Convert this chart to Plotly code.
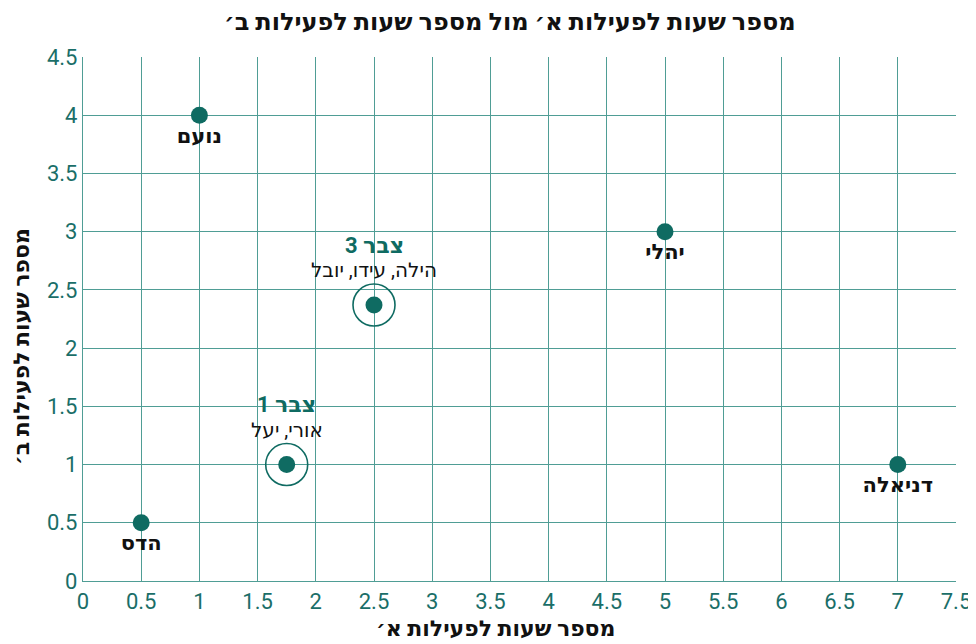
import plotly.graph_objects as go

# individual kids
names = ["נועם", "יהלי", "הדס", "דניאלה"]
hours_a = [1, 5, 0.5, 7]
hours_b = [4, 3, 0.5, 1]

# clusters
cluster_titles = ["צבר 1", "צבר 3"]
cluster_members = ["אורי, יעל", "הילה, עידו, יובל"]
cluster_a = [1.75, 2.5]
cluster_b = [1, 2.37]

TEAL = "#0f6b62"
GRID = "#4f9d95"
FONT = "Roboto, Noto Sans, DejaVu Sans, sans-serif"

fig = go.Figure()

fig.add_trace(go.Scatter(
    x=hours_a, y=hours_b, mode="markers+text",
    text=[f"<b>{n}</b>" for n in names], textposition="bottom center",
    textfont=dict(size=21, color="#111", family=FONT),
    marker=dict(size=17, color=TEAL),
    hoverinfo="skip", showlegend=False,
))

fig.add_trace(go.Scatter(
    x=cluster_a, y=cluster_b, mode="markers",
    marker=dict(size=42, color="rgba(0,0,0,0)", line=dict(color=TEAL, width=1.6)),
    hoverinfo="skip", showlegend=False,
))
fig.add_trace(go.Scatter(
    x=cluster_a, y=cluster_b, mode="markers",
    marker=dict(size=17, color=TEAL),
    hoverinfo="skip", showlegend=False,
))

for t, m, xa, yb in zip(cluster_titles, cluster_members, cluster_a, cluster_b):
    fig.add_annotation(x=xa, y=yb, text=f"<b>{t}</b>", showarrow=False,
                       yshift=60, font=dict(size=22, color=TEAL, family=FONT))
    fig.add_annotation(x=xa, y=yb, text=m, showarrow=False,
                       yshift=35, font=dict(size=20, color="#111", family=FONT))

axis_common = dict(
    showgrid=True, gridcolor=GRID, gridwidth=1.3,
    showline=True, linecolor=GRID, linewidth=1.3,
    zeroline=False, dtick=0.5, ticks="",
    tickfont=dict(size=22, color="#1a6e68", family=FONT),
)
fig.update_xaxes(range=[0, 7.5], **axis_common)
fig.update_yaxes(range=[0, 4.5], **axis_common)

# titles placed as annotations to match the reference offsets
fig.add_annotation(text="<b>מספר שעות לפעילות א׳ מול מספר שעות לפעילות ב׳</b>",
                   xref="paper", yref="paper", x=0.489, y=1.0668,
                   xanchor="center", yanchor="middle", showarrow=False,
                   font=dict(size=24, color="#111", family=FONT))
fig.add_annotation(text="<b>מספר שעות לפעילות א׳</b>",
                   xref="paper", yref="paper", x=0.473, y=-0.0916,
                   xanchor="center", yanchor="middle", showarrow=False,
                   font=dict(size=22, color="#111", family=FONT))
fig.add_annotation(text="<b>מספר שעות לפעילות ב׳</b>",
                   xref="paper", yref="paper", x=-0.0699, y=0.4485,
                   xanchor="center", yanchor="middle", showarrow=False, textangle=-90,
                   font=dict(size=22, color="#111", family=FONT))

fig.update_layout(
    width=976, height=644,
    margin=dict(l=75, r=28, t=49, b=71),
    plot_bgcolor="white", paper_bgcolor="white",
)

fig.write_html("out.html")
